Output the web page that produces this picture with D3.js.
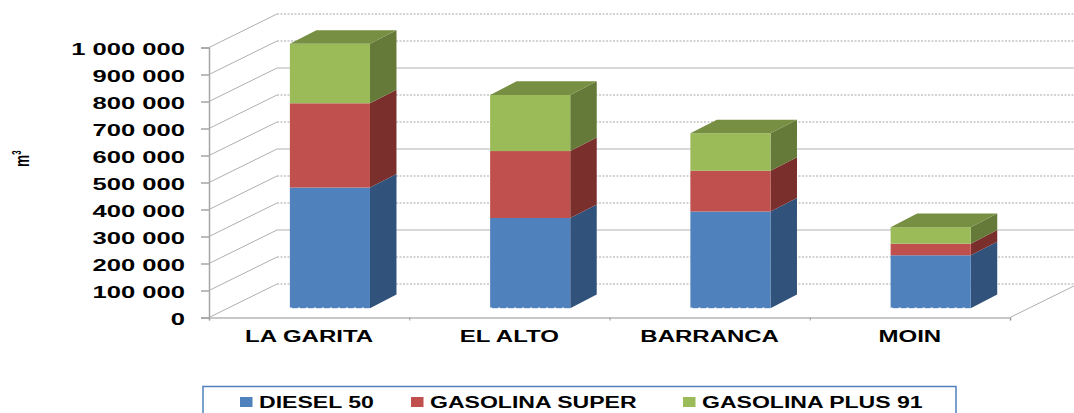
<!DOCTYPE html>
<html>
<head>
<meta charset="utf-8">
<script src="https://cdnjs.cloudflare.com/ajax/libs/d3/7.8.5/d3.min.js"></script>
<style>
  html, body { margin: 0; padding: 0; background: #fff; overflow: hidden; }
  text { font-family: "Liberation Sans", Arial, sans-serif; font-weight: 700; fill: #000; }
</style>
</head>
<body>
<div id="chart"></div>
<script>
const categories = ['LA GARITA', 'EL ALTO', 'BARRANCA', 'MOIN']
const seriesNames = ['DIESEL 50', 'GASOLINA SUPER', 'GASOLINA PLUS 91']
const diesel = [447000, 334000, 358000, 196000]
const super95 = [312000, 248000, 151000, 43000]
const plus91 = [220000, 208000, 139000, 61000]
const yTicks = [0, 100000, 200000, 300000, 400000, 500000, 600000, 700000, 800000, 900000, 1000000]

const frontColors = ['#4f81bd', '#c0504d', '#9bbb59']
const sideColors = ['#31527a', '#7a2f2d', '#657a38']
const topColor = '#778f42'

const width = 1074
const height = 413

// fake 3d: the floor runs back by this much
const wall = { dx: 68, dy: -33.5 }
const barFront = { dx: 20.8, dy: -9.3 }
const barDepth = { dx: 26.5, dy: -13.6 }

const svg = d3
  .select('#chart')
  .append('svg')
  .attr('width', width)
  .attr('height', height)

const yScale = d3.scaleLinear().domain([0, 1000000]).range([317.5, 47.5])
const xScale = d3
  .scaleBand()
  .domain(categories)
  .range([209, 1010])
  .paddingInner(0.6)
  .paddingOuter(0.3)

const fmt = d3.formatLocale({ decimal: ',', thousands: ' ', grouping: [3], currency: ['', ''] }).format(',d')

// stretch the text sideways, the picture has wide squashed labels
function stretch(selection, k) {
  selection.each(function () {
    const len = this.getComputedTextLength()
    d3.select(this).attr('textLength', len * k).attr('lengthAdjust', 'spacingAndGlyphs')
  })
}

// back wall lines
svg
  .append('g')
  .selectAll('line')
  .data(yTicks)
  .join('line')
  .attr('x1', 209 + wall.dx)
  .attr('x2', width)
  .attr('y1', d => yScale(d) + wall.dy)
  .attr('y2', d => yScale(d) + wall.dy)
  .attr('stroke', (d, i) => (i % 3 === 2 ? '#b4b4b4' : '#a8a8a8'))
  .attr('stroke-width', 1.2)
  .attr('stroke-dasharray', (d, i) => (i % 3 === 2 ? null : '2 1.5'))

// side wall lines
svg
  .append('g')
  .selectAll('line')
  .data(yTicks)
  .join('line')
  .attr('x1', 209)
  .attr('x2', 209 + wall.dx)
  .attr('y1', d => yScale(d))
  .attr('y2', d => yScale(d) + wall.dy)
  .attr('stroke', '#9a9a9a')
  .attr('stroke-width', 0.8)

// floor edge on the right
svg
  .append('line')
  .attr('x1', 1010)
  .attr('x2', 1010 + wall.dx)
  .attr('y1', yScale(0))
  .attr('y2', yScale(0) + wall.dy)
  .attr('stroke', '#9a9a9a')
  .attr('stroke-width', 0.8)

const yAxis = d3
  .axisLeft(yScale)
  .tickValues(yTicks)
  .tickFormat(fmt)
  .tickSize(8)
  .tickPadding(16)

const xAxis = d3
  .axisBottom(d3.scalePoint().domain(d3.range(5)).range([209, 1010]))
  .tickSize(3)
  .tickFormat('')

svg
  .append('g')
  .attr('class', 'x axis')
  .attr('transform', 'translate(0,' + yScale(0) + ')')
  .call(xAxis)
  .call(g => g.select('.domain').attr('stroke', '#c8c8c8').attr('stroke-width', 2))
  .call(g => g.selectAll('line').attr('stroke', '#9a9a9a'))

const yG = svg
  .append('g')
  .attr('class', 'y axis')
  .attr('transform', 'translate(209,0)')
  .call(yAxis)
  .call(g => g.select('.domain').attr('stroke', '#a6a6a6').attr('stroke-width', 1.5))
  .call(g => g.selectAll('line').attr('stroke', '#a6a6a6').attr('stroke-width', 1.5))

yG.selectAll('text')
  .attr('dy', '0.4em')
  .style('font-family', '"Liberation Sans", Arial, sans-serif')
  .style('font-weight', 700)
  .style('font-size', '16.5px')
  .call(stretch, 1.55)

// bars, stacked from the front plane
const stacked = d3.stack().keys(d3.range(3)).value((row, k) => row[k])(
  categories.map((c, i) => [diesel[i], super95[i], plus91[i]])
)

function yBar(v) {
  return yScale(v) + barFront.dy
}

const bars = svg.append('g')

categories.forEach((cat, i) => {
  const x0 = xScale(cat) + barFront.dx
  const x1 = x0 + xScale.bandwidth()
  const g = bars.append('g')

  stacked.forEach((layer, k) => {
    const yLow = yBar(layer[i][0])
    const yHigh = yBar(layer[i][1])

    g.append('polygon')
      .attr('fill', sideColors[k])
      .attr('points', [
        [x1, yLow],
        [x1 + barDepth.dx, yLow + barDepth.dy],
        [x1 + barDepth.dx, yHigh + barDepth.dy],
        [x1, yHigh]
      ].join(' '))

    g.append('rect')
      .attr('x', x0)
      .attr('width', x1 - x0)
      .attr('y', yHigh)
      .attr('height', yLow - yHigh)
      .attr('fill', frontColors[k])
  })

  const yTop = yBar(stacked[2][i][1])
  g.append('polygon')
    .attr('fill', topColor)
    .attr('points', [
      [x0, yTop],
      [x1, yTop],
      [x1 + barDepth.dx, yTop + barDepth.dy],
      [x0 + barDepth.dx, yTop + barDepth.dy]
    ].join(' '))

  // the little white dots along the foot of each bar
  g.append('line')
    .attr('x1', x0)
    .attr('x2', x1)
    .attr('y1', yBar(0))
    .attr('y2', yBar(0))
    .attr('stroke', '#fff')
    .attr('stroke-width', 1.5)
    .attr('stroke-dasharray', '2 6')
})

// category labels
svg
  .append('g')
  .selectAll('text')
  .data(categories)
  .join('text')
  .attr('x', d => xScale(d) + xScale.bandwidth() / 2)
  .attr('y', 342)
  .attr('text-anchor', 'middle')
  .style('font-size', '16px')
  .text(d => d)
  .call(stretch, 1.5)

// y title, squashed along its length
const yTitle = svg
  .append('text')
  .attr('transform', 'translate(29,167) rotate(-90) scale(0.65,1)')
  .style('font-size', '21px')
yTitle.append('tspan').text('m')
yTitle.append('tspan').attr('dy', -8).style('font-size', '12px').text('3')

// legend, cut by the bottom of the picture
svg
  .append('rect')
  .attr('x', 203)
  .attr('y', 386.5)
  .attr('width', 753)
  .attr('height', 40)
  .attr('fill', '#fff')
  .attr('stroke', '#4f81bd')
  .attr('stroke-width', 1.5)

const legendX = d3.scaleOrdinal().domain(seriesNames).range([240, 411, 683])

const legend = svg
  .append('g')
  .selectAll('g')
  .data(seriesNames)
  .join('g')
  .attr('transform', d => 'translate(' + legendX(d) + ',402.5)')

legend
  .append('rect')
  .attr('y', -5.5)
  .attr('width', 12.5)
  .attr('height', 10)
  .attr('fill', (d, i) => frontColors[i])

legend
  .append('text')
  .attr('x', 19)
  .attr('y', 5)
  .style('font-size', '16px')
  .text(d => d)
  .call(stretch, 1.44)
</script>
</body>
</html>
